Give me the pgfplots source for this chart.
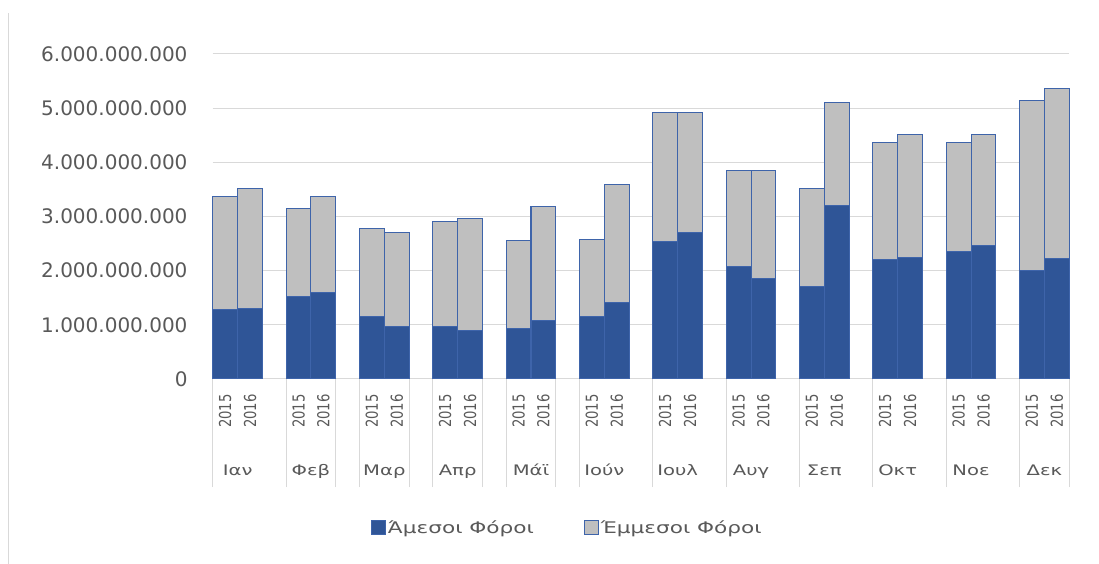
\documentclass[border=0pt]{standalone}
\usepackage{pgfplots}
\pgfplotsset{compat=1.18}
\usepackage{pgfplotstable}
\usepackage{graphicx}
\usepackage{fontspec}
\setmainfont{DejaVu Sans}
\newfontfamily\monthfont[FakeStretch=1.35]{DejaVu Sans}
\newfontfamily\yearfont[FakeStretch=0.8]{DejaVu Sans}
\definecolor{dirblue}{RGB}{47,85,151}
\definecolor{edgeblue}{RGB}{62,100,170}
\definecolor{indgrey}{RGB}{191,191,191}
\definecolor{gridgrey}{RGB}{217,217,217}
\definecolor{txtgrey}{RGB}{89,89,89}

\pgfplotstableread{
x     dir         ind
0.50  1278000000  2086000000
1.50  1302000000  2210000000
3.44  1531000000  1611000000
4.44  1605000000  1759000000
6.38  1154000000  1618000000
7.38  969000000   1729000000
9.32  969000000   1945000000
10.32 901000000   2056000000
12.26 938000000   1611000000
13.26 1086000000  2093000000
15.20 1154000000  1426000000
16.20 1414000000  2172000000
18.14 2531000000  2389000000
19.14 2710000000  2210000000
21.08 2080000000  1772000000
22.08 1864000000  1988000000
24.02 1716000000  1803000000
25.02 3198000000  1913000000
26.96 2198000000  2172000000
27.96 2235000000  2284000000
29.90 2346000000  2024000000
30.90 2463000000  2056000000
32.84 2012000000  3136000000
33.84 2228000000  3136000000
}\taxdata

\newcommand{\yr}[1]{\rotatebox{90}{\yearfont\fontsize{16.5}{18}\selectfont #1}}

\begin{document}
\begin{tikzpicture}
\useasboundingbox (0,0) rectangle (1099pt,564pt);
\draw[gridgrey, line width=1.3pt] (8.5pt,0pt) -- (8.5pt,551pt);
\begin{axis}[
  at={(212.7pt,185pt)}, anchor=south west,
  width=856.6pt, height=325pt, scale only axis,
  ybar stacked, bar width=1,
  xmin=0, xmax=34.34, ymin=0, ymax=6000000000,
  clip=false,
  scaled y ticks=false,
  axis line style={draw=none},
  ymajorgrids, grid style={gridgrey, line width=1pt},
  major tick length=0pt,
  xtick pos=bottom, ytick pos=left,
  ytick={0,1000000000,2000000000,3000000000,4000000000,5000000000,6000000000},
  yticklabels={0,1.000.000.000,2.000.000.000,3.000.000.000,4.000.000.000,5.000.000.000,6.000.000.000},
  yticklabel style={font=\fontsize{20}{24}\selectfont, text=txtgrey, inner sep=0pt, xshift=-25pt},
  xtick={0.5,1.5,3.44,4.44,6.38,7.38,9.32,10.32,12.26,13.26,15.2,16.2,18.14,19.14,21.08,22.08,24.02,25.02,26.96,27.96,29.9,30.9,32.84,33.84},
  xticklabels={\yr{2015},\yr{2016},\yr{2015},\yr{2016},\yr{2015},\yr{2016},\yr{2015},\yr{2016},\yr{2015},\yr{2016},\yr{2015},\yr{2016},\yr{2015},\yr{2016},\yr{2015},\yr{2016},\yr{2015},\yr{2016},\yr{2015},\yr{2016},\yr{2015},\yr{2016},\yr{2015},\yr{2016}},
  xticklabel style={anchor=north, inner sep=0pt, yshift=-15pt, text=txtgrey},
  minor xtick={0,2.94,4.94,5.88,7.88,8.82,10.82,11.76,13.76,14.7,17.64,20.58,23.52,26.46,29.4,32.34,34.34},
  minor tick length=108pt, tick align=outside,
  minor tick style={gridgrey, line width=1pt},
  extra x ticks={1,3.94,6.88,9.82,12.76,15.7,18.64,21.58,24.52,27.46,30.4,33.34},
  extra x tick labels={Ιαν,Φεβ,Μαρ,Απρ,Μάϊ,Ιούν,Ιουλ,Αυγ,Σεπ,Οκτ,Νοε,Δεκ},
  extra x tick style={major tick length=0pt, xticklabel style={anchor=base, yshift=-82pt, font=\monthfont\fontsize{14.5}{17}\selectfont}},
  legend style={at={(0.414,-0.458)}, anchor=center, draw=none, fill=none,
    legend columns=2, font=\monthfont\fontsize{16}{18}\selectfont, text=txtgrey,
    /tikz/every even column/.append style={column sep=48pt}, cells={anchor=west}},
  legend image code/.code={\draw[#1, line width=1pt] (-4pt,-7pt) rectangle (10pt,7pt);},
]
\addplot[fill=dirblue, draw=edgeblue, line width=1pt] table[x=x,y=dir]{\taxdata};
\addplot[fill=indgrey, draw=edgeblue, line width=1pt] table[x=x,y=ind]{\taxdata};
\legend{Άμεσοι Φόροι, Έμμεσοι Φόροι}
\end{axis}
\end{tikzpicture}
\end{document}
